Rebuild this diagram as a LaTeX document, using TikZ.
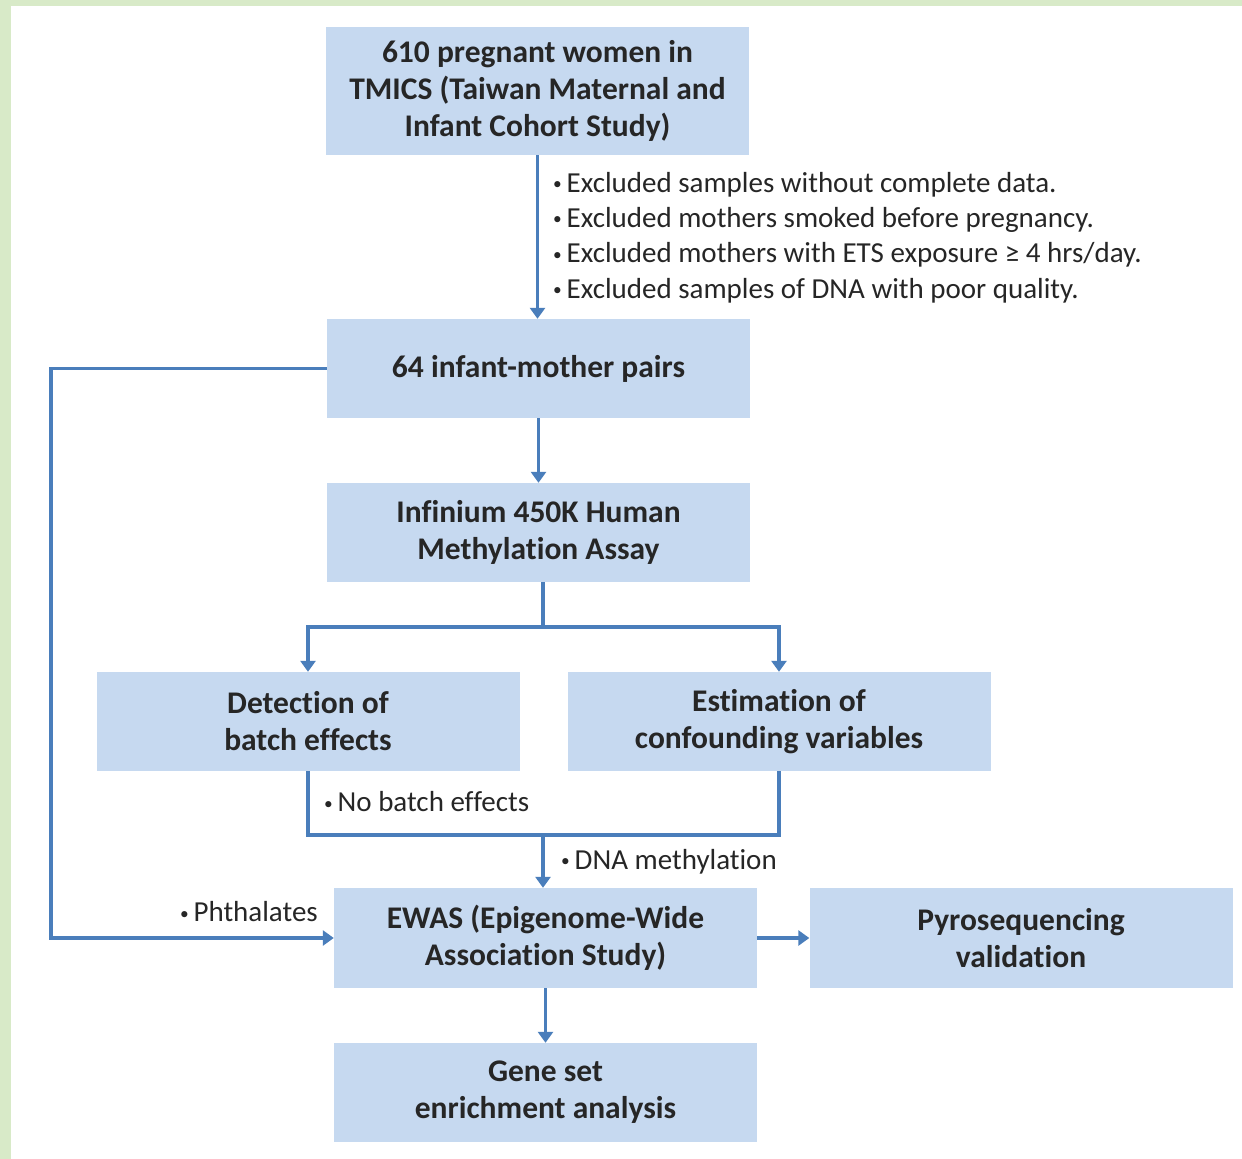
\documentclass[tikz,border=0pt]{standalone}
\usepackage{fontspec}
\usepackage{graphicx}
\setmainfont[Ligatures=NoCommon]{Carlito}
\usetikzlibrary{arrows.meta}
\definecolor{boxfill}{HTML}{C6D9F0}
\definecolor{lineblue}{HTML}{4A7EBB}
\definecolor{txt}{HTML}{262626}
\definecolor{greenbg}{HTML}{D8EAC8}
\newcommand{\bul}{\raisebox{0.2ex}{\scalebox{0.6}{\textbullet}}\,}
\begin{document}
\begin{tikzpicture}[x=1pt,y=-1pt,
  box/.style={fill=boxfill, inner sep=0pt, text=txt, align=center,
    font=\fontsize{31.5}{37}\selectfont\bfseries},
  bw/.style={minimum width=423pt},
  conn/.style={draw=lineblue, line width=3.8pt},
  arr/.style={conn, -{Triangle[width=15pt,length=11pt]}},
  lbl/.style={text=txt, inner sep=0pt, font=\fontsize{29}{35.3}\selectfont}
]
\useasboundingbox (0,0) rectangle (1242,1159);
\fill[greenbg] (0,0) rectangle (1242,1159);
\fill[white] (11,6) rectangle (1242,1159);

\node[box, bw, minimum height=128pt] (b1) at (537.5,91) {610 pregnant women in\\TMICS (Taiwan Maternal and\\Infant Cohort Study)};
\node[box, bw, minimum height=99pt] (b2) at (538.5,368.5) {64 infant-mother pairs};
\node[box, bw, minimum height=99pt] (b3) at (538.5,532.5) {Infinium 450K Human\\Methylation Assay};
\node[box, bw, minimum height=99pt] (b4) at (308,721.5) {Detection of\\batch effects};
\node[box, bw, minimum height=99pt] (b5) at (779,721.5) {Estimation of\\confounding variables};
\node[box, bw, minimum height=100pt] (b6) at (545.5,938) {EWAS (Epigenome-Wide\\Association Study)};
\node[box, bw, minimum height=100pt] (b7) at (1021,938) {Pyrosequencing\\validation};
\node[box, bw, minimum height=99pt] (b8) at (545.5,1092.5) {Gene set\\enrichment analysis};

\coordinate (split) at (543,627);
\coordinate (merge) at (543,835);

\draw[arr] (b1.south) -- (b1.south |- b2.north);
\draw[arr] (b2.south) -- (b3.north);
\draw[conn] (b3.south -| split) -- (split);
\draw[arr] (split) -| (b4.north);
\draw[arr] (split) -| (b5.north);
\draw[conn] (b4.south) |- (merge) -| (b5.south);
\draw[arr] (merge) -- (merge |- b6.north);
\draw[arr] (b2.west) -- ++(-276,0) |- (b6.west);
\draw[arr] (b6.east) -- (b7.west);
\draw[arr] (b6.south) -- (b8.north);

\node[lbl, anchor=north west, align=left] (excl) at (553,172) {\bul Excluded samples without complete data.\\
\bul Excluded mothers smoked before pregnancy.\\
\bul Excluded mothers with ETS exposure ≥ 4 hrs/day.\\
\bul Excluded samples of DNA with poor quality.};
\node[lbl, anchor=west] (nobatch) at (324,802) {\bul No batch effects};
\node[lbl, anchor=west] (dnam) at (561,862) {\bul DNA methylation};
\node[lbl, anchor=east] (phth) at (318,912) {\bul Phthalates};
\end{tikzpicture}
\end{document}
